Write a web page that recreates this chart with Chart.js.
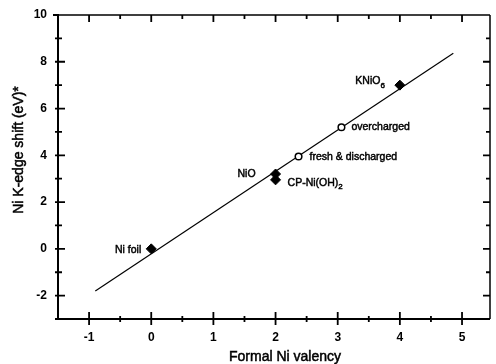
<!DOCTYPE html>
<html>
<head>
<meta charset="utf-8">
<script src="https://cdn.jsdelivr.net/npm/chart.js@4/dist/chart.umd.min.js"></script>
<style>
html,body{margin:0;padding:0;background:#fff;}
#wrap{width:496px;height:364px;position:relative;}
</style>
</head>
<body>
<div id="wrap"><canvas id="c"></canvas></div>
<script>
// ---- data ----
const solidLabels = ['Ni foil', 'NiO', 'CP-Ni(OH)_2', 'KNiO_6'];
const solidX = [0, 2, 2, 4];
const solidY = [0, 3.2, 2.95, 7.0];

const openLabels = ['fresh & discharged', 'overcharged'];
const openX = [2.37, 3.06];
const openY = [3.95, 5.2];

const fitX = [-0.9, 4.86];
const fitY = [-1.8, 8.36];

const xTickValues = [-1, 0, 1, 2, 3, 4, 5];
const yTickValues = [-2, 0, 2, 4, 6, 8, 10];

const xTitle = 'Formal Ni valency';
const yTitle = 'Ni K-edge shift (eV)*';

// ---- label placement (styling, pixel offsets from the point) ----
const solidLabelPlace = [
  {dx: -10, dy: 1, align: 'right'},
  {dx: -20, dy: 0, align: 'right'},
  {dx: 12, dy: 3, align: 'left'},
  {dx: -15, dy: -4, align: 'right'}
];
const openLabelPlace = [
  {dx: 11, dy: 1, align: 'left'},
  {dx: 10, dy: 0, align: 'left'}
];

const FONT = '"Liberation Sans", Arial, sans-serif';

function toXY(xs, ys) { return xs.map((x, i) => ({x: x, y: ys[i]})); }

function parseRich(s) {
  const parts = [];
  let buf = '';
  for (let i = 0; i < s.length; i++) {
    if (s[i] === '_' && i + 1 < s.length) {
      if (buf) parts.push({t: buf, sub: false});
      buf = '';
      parts.push({t: s[i + 1], sub: true});
      i++;
    } else buf += s[i];
  }
  if (buf) parts.push({t: buf, sub: false});
  return parts;
}

function drawRich(ctx, str, x, y, align, size) {
  const parts = parseRich(str);
  const mainFont = size + 'px ' + FONT;
  const subFont = Math.round(size * 0.75) + 'px ' + FONT;
  let total = 0;
  parts.forEach(p => { ctx.font = p.sub ? subFont : mainFont; p.w = ctx.measureText(p.t).width; total += p.w; });
  let cx = align === 'right' ? x - total : x;
  ctx.textAlign = 'left';
  ctx.textBaseline = 'middle';
  ctx.lineWidth = 0.45;
  parts.forEach(p => {
    ctx.font = p.sub ? subFont : mainFont;
    const yy = p.sub ? y + size * 0.4 : y;
    ctx.fillText(p.t, cx, yy);
    ctx.strokeText(p.t, cx, yy);
    cx += p.w;
  });
}

const framePlugin = {
  id: 'frame',
  afterDatasetsDraw(chart) {
    const ctx = chart.ctx;
    const a = chart.chartArea;
    const xs = chart.scales.x, ys = chart.scales.y;
    ctx.save();
    ctx.strokeStyle = '#000';
    ctx.lineCap = 'butt';
    // top & right frame
    ctx.lineWidth = 1.5;
    ctx.beginPath();
    ctx.moveTo(a.left, a.top); ctx.lineTo(a.right, a.top);
    ctx.moveTo(a.right, a.top); ctx.lineTo(a.right, a.bottom);
    ctx.stroke();
    // left & bottom axes
    ctx.lineWidth = 2;
    ctx.beginPath();
    ctx.moveTo(a.left, a.top - 1); ctx.lineTo(a.left, a.bottom + 1);
    ctx.moveTo(a.left - 3, a.bottom); ctx.lineTo(a.right, a.bottom);
    ctx.stroke();
    // x ticks (every 0.5)
    ctx.lineWidth = 1.8;
    ctx.beginPath();
    for (let v = Math.ceil(xs.min * 2) / 2; v <= xs.max + 1e-9; v += 0.5) {
      const px = xs.getPixelForValue(v);
      const major = Math.abs(v - Math.round(v)) < 1e-9;
      if (px <= a.left + 1 || px >= a.right - 1) continue;
      ctx.moveTo(px, a.bottom - (major ? 7 : 3));
      ctx.lineTo(px, a.bottom + (major ? 6 : 3));
      ctx.moveTo(px, a.top);
      ctx.lineTo(px, a.top + (major ? 7 : 4));
    }
    // y ticks (every 1)
    for (let v = Math.ceil(ys.min); v <= ys.max + 1e-9; v += 1) {
      const py = ys.getPixelForValue(v);
      if (py <= a.top + 1 || py >= a.bottom - 1) continue;
      const major = v % 2 === 0;
      ctx.moveTo(a.left - 3, py);
      ctx.lineTo(a.left + (major ? 7 : 4), py);
      ctx.moveTo(a.right, py);
      ctx.lineTo(a.right - (major ? 7 : 4), py);
    }
    // tick stub at y max (10) outward
    const pTop = ys.getPixelForValue(10);
    ctx.moveTo(a.left - 5, pTop); ctx.lineTo(a.left, pTop);
    ctx.stroke();

    // point labels
    ctx.fillStyle = '#000';
    const m0 = chart.getDatasetMeta(0), m1 = chart.getDatasetMeta(1);
    solidLabels.forEach((lab, i) => {
      const el = m0.data[i], p = solidLabelPlace[i];
      drawRich(ctx, lab, el.x + p.dx, el.y + p.dy, p.align, 10.5);
    });
    openLabels.forEach((lab, i) => {
      const el = m1.data[i], p = openLabelPlace[i];
      drawRich(ctx, lab, el.x + p.dx, el.y + p.dy, p.align, 10.5);
    });

    // axis titles
    ctx.font = '14px ' + FONT;
    ctx.textAlign = 'center';
    ctx.textBaseline = 'middle';
    ctx.lineWidth = 0.5;
    ctx.fillText(xTitle, 285, 357);
    ctx.strokeText(xTitle, 285, 357);
    ctx.translate(19, 150);
    ctx.rotate(-Math.PI / 2);
    ctx.fillText(yTitle, 0, 0);
    ctx.strokeText(yTitle, 0, 0);
    ctx.restore();
  }
};

new Chart(document.getElementById('c'), {
  type: 'scatter',
  data: {
    datasets: [
      {
        label: 'reference compounds',
        data: toXY(solidX, solidY),
        pointStyle: 'rectRot',
        pointRadius: 5,
        pointBackgroundColor: '#000',
        pointBorderColor: '#000',
        pointBorderWidth: 1,
        order: 1
      },
      {
        label: 'electrodes',
        data: toXY(openX, openY),
        pointStyle: 'circle',
        pointRadius: 3.3,
        pointBackgroundColor: '#fff',
        pointBorderColor: '#000',
        pointBorderWidth: 1.5,
        order: 0
      },
      {
        label: 'fit',
        type: 'line',
        data: toXY(fitX, fitY),
        borderColor: '#000',
        borderWidth: 1.2,
        pointRadius: 0,
        fill: false,
        order: 2
      }
    ]
  },
  plugins: [framePlugin],
  options: {
    responsive: true,
    maintainAspectRatio: false,
    animation: false,
    layout: {padding: {left: 0, right: 1, top: 15, bottom: 0}},
    plugins: {legend: {display: false}, tooltip: {enabled: false}},
    scales: {
      x: {
        type: 'linear',
        min: -1.5,
        max: 5.45,
        grid: {display: false},
        border: {display: false},
        afterBuildTicks: s => { s.ticks = xTickValues.map(v => ({value: v})); },
        afterFit: s => { s.height = 45; },
        ticks: {
          color: '#000',
          padding: 3,
          maxRotation: 0,
          font: {family: FONT, size: 12, weight: 'bold'}
        }
      },
      y: {
        type: 'linear',
        min: -3,
        max: 10,
        grid: {display: false},
        border: {display: false},
        afterBuildTicks: s => { s.ticks = yTickValues.map(v => ({value: v})); },
        afterFit: s => { s.width = 58; },
        ticks: {
          color: '#000',
          padding: 3,
          font: {family: FONT, size: 12, weight: 'bold'}
        }
      }
    }
  }
});
</script>
</body>
</html>
